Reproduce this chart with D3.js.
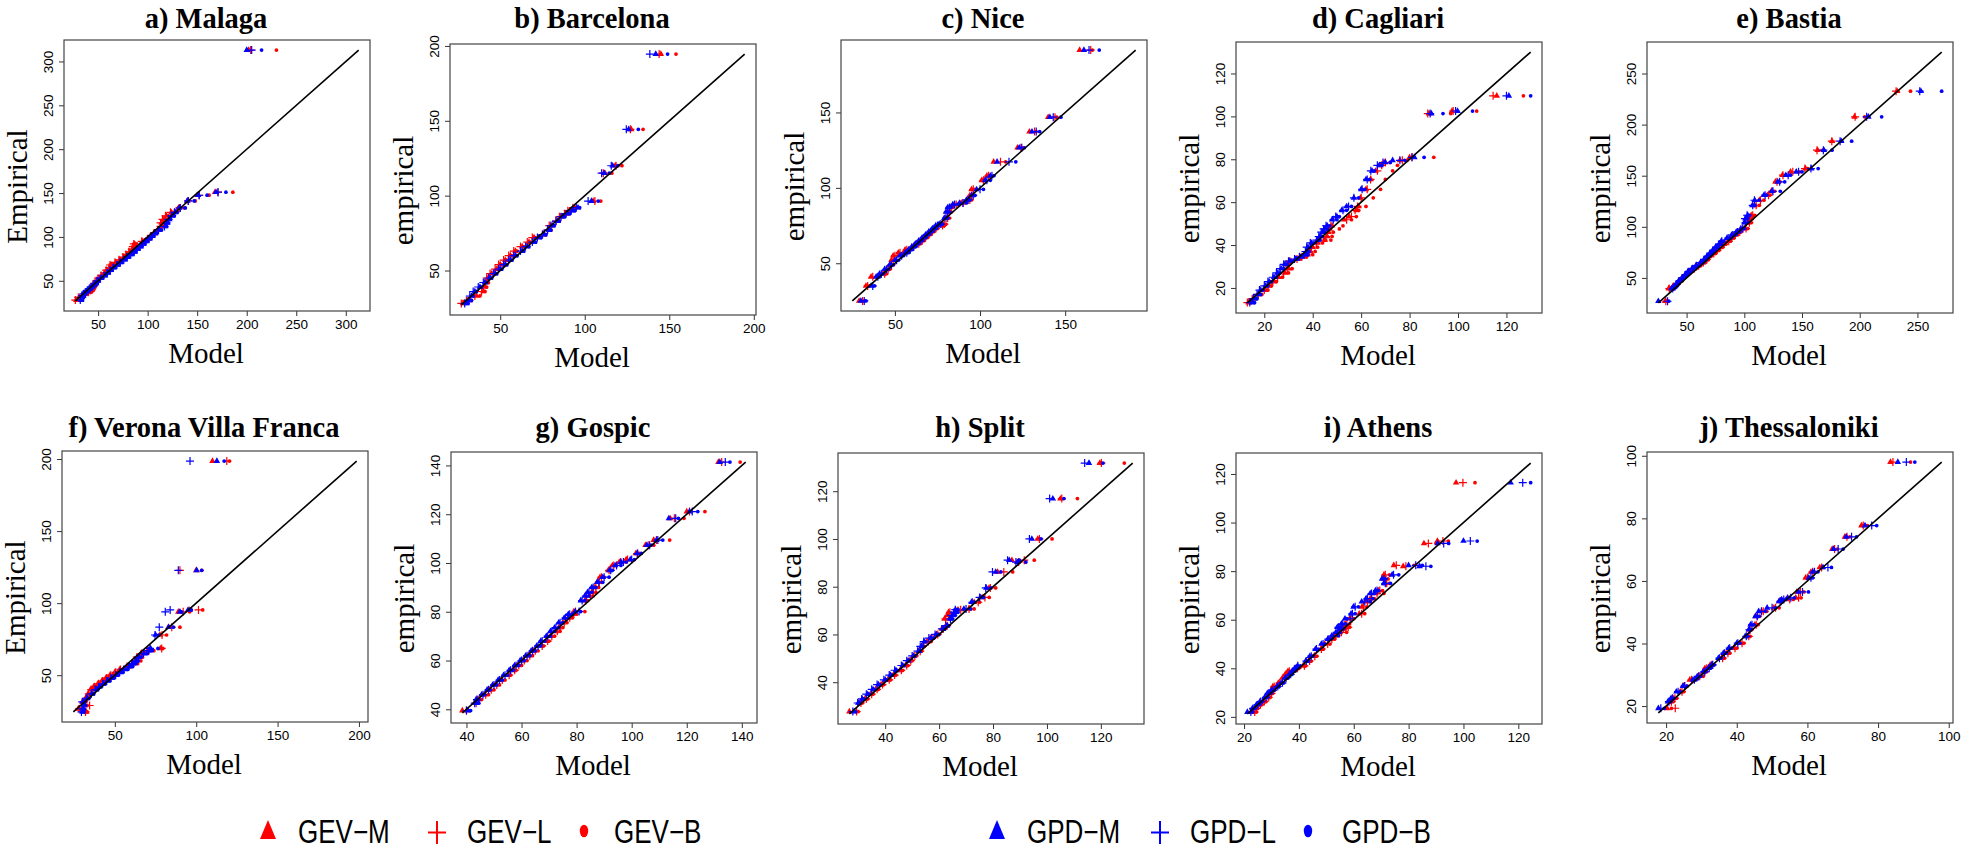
<!DOCTYPE html>
<html>
<head>
<meta charset="utf-8">
<script src="https://cdn.jsdelivr.net/npm/d3@7"></script>
<style>
  body { margin: 0; background: #fff; }
</style>
</head>
<body>
<svg id="fig" width="1972" height="851"></svg>
<script>
// every row: [empirical, GEV-M, GEV-L, GEV-B, GPD-M, GPD-L, GPD-B]
const seriesNames = ["GEV\u2212M", "GEV\u2212L", "GEV\u2212B", "GPD\u2212M", "GPD\u2212L", "GPD\u2212B"]
const titles = ["a) Malaga", "b) Barcelona", "c) Nice", "d) Cagliari", "e) Bastia",
  "f) Verona Villa Franca", "g) Gospic", "h) Split", "i) Athens", "j) Thessaloniki"]
const yTitles = ["Empirical", "empirical", "empirical", "empirical", "empirical",
  "Empirical", "empirical", "empirical", "empirical", "empirical"]
const tickSets = [
  [50, 100, 150, 200, 250, 300],
  [50, 100, 150, 200],
  [50, 100, 150],
  [20, 40, 60, 80, 100, 120],
  [50, 100, 150, 200, 250],
  [50, 100, 150, 200],
  [40, 60, 80, 100, 120, 140],
  [40, 60, 80, 100, 120],
  [20, 40, 60, 80, 100, 120],
  [20, 40, 60, 80, 100]
]

const malaga = [
  [28, 28, 27, 30, 33, 32, 34], [31, 31, 30, 33, 34, 33, 35], [33, 35, 34, 36, 35, 34, 36],
  [35, 38, 37, 39, 36, 35, 37], [37, 41, 40, 43, 38, 37, 39], [39, 43, 42, 45, 40, 39, 41],
  [41, 44, 43, 46, 42, 41, 43], [43, 45, 44, 47, 44, 43, 45], [45, 46, 45, 48, 46, 45, 47],
  [47, 47, 46, 49, 48, 47, 49], [50, 49, 48, 51, 50, 49, 51], [53, 51, 50, 53, 53, 52, 54],
  [56, 54, 53, 56, 57, 56, 58], [59, 57, 56, 59, 60, 59, 61], [62, 59, 58, 61, 63, 62, 64],
  [65, 62, 61, 64, 66, 65, 67], [68, 63, 62, 65, 70, 69, 71], [71, 68, 67, 70, 73, 72, 74],
  [74, 72, 71, 74, 77, 76, 78], [77, 76, 75, 78, 80, 79, 81], [80, 79, 78, 81, 84, 83, 85],
  [83, 82, 81, 84, 87, 86, 88], [86, 85, 84, 87, 90, 89, 91], [89, 86, 85, 88, 93, 92, 94],
  [92, 87, 86, 89, 96, 95, 97], [95, 95, 94, 97, 99, 98, 100], [98, 101, 100, 103, 102, 101, 103],
  [101, 104, 103, 106, 105, 104, 106], [104, 107, 106, 109, 108, 107, 109],
  [108, 111, 110, 113, 112, 111, 114], [112, 114, 113, 116, 118, 117, 119],
  [116, 114, 113, 116, 120, 119, 121], [120, 116, 115, 118, 122, 121, 123],
  [124, 119, 118, 121, 125, 124, 127], [128, 124, 123, 126, 128, 127, 130],
  [133, 131, 132, 137, 132, 133, 138], [141, 140, 141, 148, 140, 141, 147],
  [147.5, 150, 152, 162, 151, 152, 160], [151, 168, 171, 186, 169, 171, 179],
  [313, 202, 204, 230, 200, 205, 215]
]
const barcelona = [
  [28, 28, 27, 30, 30, 29, 31], [30, 31, 30, 33, 32, 31, 33], [33, 36, 35, 38, 33, 32, 34],
  [36, 40, 39, 41, 35, 34, 36], [39, 41, 40, 42, 38, 37, 39], [42, 42, 41, 43, 41, 40, 42],
  [45, 43, 42, 44, 44, 43, 45], [48, 45, 44, 46, 47, 46, 48], [51, 48, 47, 49, 50, 49, 51],
  [54, 50, 49, 51, 53, 52, 54], [57, 53, 52, 54, 56, 55, 57], [60, 56, 55, 57, 59, 58, 60],
  [63, 59, 58, 60, 63, 62, 64], [66, 63, 62, 64, 66, 65, 67], [69, 67, 66, 68, 70, 69, 71],
  [72, 70, 69, 71, 73, 72, 74], [74, 76, 75, 77, 76, 75, 77], [77, 79, 78, 80, 79, 78, 80],
  [80, 80, 79, 81, 81, 80, 82], [83, 84, 83, 85, 84, 83, 85], [86, 86, 85, 87, 87, 86, 88],
  [88, 89, 88, 90, 90, 89, 91], [90, 91, 90, 92, 93, 92, 94], [92, 94, 93, 95, 96, 95, 97],
  [96.4, 105, 106, 109.5, 104, 102, 108], [115, 112, 111, 116, 111.5, 110, 114.5],
  [120, 118, 118.5, 122, 116.5, 115.7, 119.6], [144.3, 127.5, 127, 134.5, 126, 124.6, 131.7],
  [194.6, 145, 144, 154, 142, 138.5, 149]
]
const nice = [
  [25, 29, 31, 32, 30, 32, 33], [35, 33, 34, 35, 36, 37, 38], [41, 36, 37, 39, 39, 40, 41],
  [43, 43, 44, 45, 41, 42, 43], [46, 45, 46, 47, 44, 45, 46], [49, 47, 48, 49, 47, 48, 49],
  [52, 48, 49, 50, 50, 51, 52], [55, 49, 50, 52, 53, 54, 55], [57, 52, 53, 55, 56, 57, 58],
  [59, 56, 57, 58, 58, 59, 60], [61, 60, 61, 62, 60, 61, 62], [63, 63, 64, 65, 62, 63, 64],
  [65, 65, 66, 67, 64, 65, 66], [67, 67, 68, 69, 66, 67, 68], [69, 69, 70, 71, 68, 69, 70],
  [71, 71, 72, 73, 70, 71, 72], [73, 73, 74, 75, 72, 73, 74], [75, 77, 78, 79, 74, 75, 76],
  [76, 78, 79, 80, 76, 77, 78], [80, 80, 81, 82, 79, 80, 81], [84, 81, 82, 83, 80, 81, 82],
  [87, 82, 83, 84, 81, 82, 83], [89, 85, 86, 87, 84, 85, 87], [90, 89, 90, 91, 88, 90, 92],
  [92, 93, 94, 95, 92, 93, 94], [95, 94, 95, 96, 95, 96, 97], [99, 95, 96, 97, 98, 100, 102],
  [105, 101, 102, 103, 103, 104, 106], [108, 104, 105, 106, 106, 107, 108],
  [117.3, 108, 112, 115, 110, 117, 121], [126.6, 122, 124, 125, 123, 124.5, 126],
  [137.3, 129, 132, 133, 130.5, 133, 135], [146.9, 140, 144, 145, 141, 143, 147.5],
  [191.4, 158.5, 165, 166, 161, 164, 170]
]
const cagliari = [
  [13.2, 13.5, 13, 14.5, 15, 14, 16], [15, 15.5, 15, 16.5, 16, 15.5, 17],
  [17, 18, 17.5, 19, 17.5, 17, 18.5], [19, 20.5, 20, 21.5, 18.5, 18, 19.5],
  [21, 22, 21.5, 23, 20.5, 20, 21.5], [23, 24, 23.5, 25, 22, 21.5, 23],
  [25, 26, 25.5, 27.5, 24, 23.5, 25], [27, 28.5, 28, 30, 25.5, 25, 26.5],
  [29, 30, 29.5, 31.5, 27, 26.5, 28], [31, 29.5, 29, 30.5, 28.5, 28, 29.5],
  [32.5, 31, 30.5, 32, 30.5, 30, 31.5], [33.5, 34, 33.5, 35, 33, 32.5, 34],
  [34.5, 36, 35.5, 37.5, 35, 34.5, 36], [35.5, 38, 37.5, 40, 37, 36.5, 38],
  [37, 39, 38.5, 41, 37.5, 37, 38.5], [39, 40, 39.5, 42, 38, 37.5, 39],
  [41, 42, 41.5, 44, 39.5, 39, 40.5], [42.3, 45, 44.5, 47.5, 42, 41.5, 43],
  [44, 46, 45.5, 48, 43, 42.5, 44], [46, 46.5, 46, 48.5, 44, 43.5, 45],
  [47.5, 47, 46.5, 51, 45, 44.5, 46], [49, 48, 47.5, 52.5, 46, 45.5, 47],
  [51.8, 53, 54, 56, 48, 48.5, 50], [53.3, 55, 56, 58, 50, 49.5, 51],
  [56.2, 58, 57.5, 59, 52, 52.5, 54], [58, 59, 58.5, 62, 54, 54.8, 56],
  [62, 59.7, 60, 65, 57, 57, 59], [66, 62, 62.5, 68, 60, 60.4, 61.5],
  [70.6, 64, 63.9, 70, 62, 62.5, 63.5], [74.6, 66, 66.7, 73, 64.5, 64, 65.5],
  [77.2, 68, 68.5, 75, 67.5, 66.7, 68.5], [78.5, 69.5, 70, 72, 70, 69, 72],
  [79.5, 76, 77, 79, 73, 76, 78], [80.9, 80, 81, 90, 82, 81, 86],
  [101.3, 88, 87.5, 97, 89, 88.5, 93.8], [102.5, 97.5, 98, 107.7, 99.8, 99, 106],
  [109.6, 116, 114.5, 127, 121, 120, 130]
]
const bastia = [
  [27.2, 31.5, 32, 33, 25.5, 33.5, 34.5], [39.6, 34.5, 35, 36, 37, 38, 39],
  [41.5, 38, 38.5, 40, 39.5, 40, 41], [44, 41, 41.5, 43, 41, 41.5, 42.5],
  [47, 44, 44.5, 46, 43, 43.5, 45], [50, 46, 46.5, 48, 46, 46.5, 47.5],
  [53, 49, 49.5, 51, 48.5, 49, 50], [56, 52, 52.5, 54, 51, 51.5, 53],
  [59, 56, 56.5, 58, 54.5, 55, 56.5], [62, 60, 60.5, 62, 58, 58.5, 60],
  [65, 64, 64.5, 66, 62, 62.5, 64], [68, 67, 67.5, 69, 65, 65.5, 67],
  [71, 69, 69.5, 71, 67.5, 68, 69.5], [74, 73, 73.5, 75, 70, 70.5, 72],
  [77, 76, 76.5, 78, 72.5, 73, 74.5], [80, 79, 79.5, 81, 75, 75.5, 77],
  [83, 82, 82.5, 84, 78, 78.5, 80], [86, 86, 86.5, 88, 80, 80.5, 82],
  [89, 88, 89, 91, 85, 86, 88], [92, 91, 92, 94, 89, 90, 92],
  [95, 95, 96, 97, 93, 94, 96], [98.3, 100, 101.5, 103, 97, 98.6, 100],
  [104, 103, 104.4, 106, 100, 101, 103], [108, 104, 105, 107, 101, 100.6, 103],
  [111.3, 106, 107.3, 109, 103, 102.4, 104.4], [121, 109, 110.3, 113, 107, 107.3, 109],
  [126, 113, 114, 117, 109, 108.8, 113], [131, 120, 121, 122, 117, 118, 119],
  [134.8, 123.4, 124, 126.3, 124, 124.8, 131.2], [144, 127, 128.3, 131, 129, 130.6, 135],
  [150.5, 133, 133.5, 135.6, 136, 138, 140], [153.8, 140, 142, 148, 145, 147, 150],
  [157, 153, 152.5, 155, 158, 157.7, 164], [175, 163.5, 163, 168, 169, 168.5, 176],
  [183.8, 176, 175.8, 183.5, 184, 183, 193], [207.6, 195.5, 196, 204.3, 207.5, 206, 219],
  [232.7, 232.5, 231.5, 244, 253, 252, 271]
]
const verona = [
  [24.5, 32.5, 32, 33, 30, 29.5, 31], [26.7, 27.5, 28, 29, 30.5, 30, 31],
  [29, 31.5, 34.5, 33, 31, 30.5, 32], [31.5, 30, 31, 32, 30.5, 30, 31.5],
  [34, 32, 33, 34, 33, 32.5, 34], [37, 33.5, 34, 35, 36, 35.5, 37],
  [40, 35, 35.5, 36.5, 38.5, 38, 39.5], [42, 37, 37.5, 38.5, 40.5, 40, 41.5],
  [44, 39.5, 40, 41, 43, 42.5, 44], [46, 42, 42.5, 43.5, 45.5, 45, 47],
  [48, 44.5, 45, 46, 48, 47.5, 49.5], [50, 47, 47.5, 48.5, 51, 50.5, 52],
  [52, 50, 50.5, 51.5, 53.5, 53, 55], [54, 53, 53.5, 55, 56, 55.5, 58],
  [56, 58, 57.5, 60, 59, 58.5, 61], [58, 61, 60.5, 64, 61, 60.5, 63],
  [60, 63, 62.5, 66, 63, 62.5, 64.5], [62.5, 64, 63.5, 67, 65, 64.5, 66],
  [65, 66, 66.5, 68, 68, 67.5, 70], [67, 70, 71, 74, 71, 70.5, 73],
  [68.6, 78, 78.8, 79.5, 72, 71.6, 76.5], [77.9, 77.7, 79, 81.8, 75, 74.7, 77],
  [83.3, 83, 85, 90, 83, 77.3, 86], [94, 89, 92, 96, 90, 81, 91],
  [95.3, 96, 101.4, 104, 95, 84, 97], [122.8, 100, 90, 103.4, 100.3, 89, 103.4],
  [198.6, 110, 118.8, 120.5, 112.7, 96.2, 117.2]
]
const gospic = [
  [39.5, 38.5, 40, 41, 40.5, 40, 41.5], [42.5, 43, 43.5, 44, 43.5, 43, 44.5],
  [44, 44, 44.5, 45.5, 43.5, 43.8, 44.5], [46, 46.5, 47, 48, 45.5, 46, 46.5],
  [48, 48.5, 49, 50, 47.5, 48, 48.5], [50, 50.5, 51, 52, 49.5, 50, 51],
  [52, 52.5, 53, 54, 51.5, 52, 53], [54, 55, 55.5, 56, 53.5, 54, 55],
  [56, 57, 57.5, 58, 55.5, 56, 57], [58, 58.5, 59, 60, 57.5, 58, 59],
  [60, 60.5, 61, 62, 59.5, 60, 61], [62, 62.5, 63, 64, 61.5, 62, 63],
  [64, 64.5, 65, 66, 63.5, 64, 65], [66, 67, 67.5, 68, 65.5, 66, 67],
  [68, 69, 69.5, 70, 67, 67.5, 68.5], [70, 70.5, 71, 72, 69, 69.5, 70.5],
  [72, 72.5, 73, 74, 70.5, 71, 72], [73.5, 73.5, 74, 75, 72, 72.5, 73.5],
  [75.5, 75, 75.5, 76.5, 73.5, 74, 75], [77.5, 77, 77.5, 78.5, 75.5, 76, 77],
  [79, 78.5, 79, 80, 77, 77.5, 78.5], [80.1, 79, 79.6, 83, 79.5, 80.9, 81.5],
  [84.6, 83, 83.3, 84, 81.5, 82, 83], [86.5, 84.5, 85, 86, 83, 83.5, 84.5],
  [88, 85.5, 86, 87, 84, 84.5, 85.5], [90, 86.5, 87, 88, 85.5, 86, 87],
  [92.1, 87.5, 88, 89, 87.5, 88.2, 89.5], [94.2, 88.5, 89, 90, 89.5, 90, 91.8],
  [97, 91.5, 91.8, 92.5, 92, 92.4, 93], [99, 93, 93.5, 94.5, 94, 94.5, 96.1],
  [100.4, 95.5, 96, 97, 96.1, 97, 98], [101.4, 98, 98.5, 99.5, 99.5, 100, 101],
  [103.9, 101.5, 102, 102.8, 102, 102.2, 103.5], [107.3, 105, 106, 108, 105.5, 106.5, 107],
  [109.4, 108, 109, 113.8, 109, 109.5, 111.3], [118.3, 114, 115.5, 119, 113.5, 116, 117],
  [121.1, 120, 121, 126.6, 121, 122, 124], [141.4, 131.5, 132.7, 139.4, 132, 134, 135.7]
]
const split = [
  [27.7, 26.7, 29.4, 30, 28.5, 28, 29], [31.3, 30.5, 31, 31.5, 30, 29.8, 30.5],
  [33, 32.5, 33, 33.5, 31.5, 31.3, 32], [35, 34.5, 35, 35.5, 33.5, 33, 34],
  [37, 36.5, 37, 37.5, 35.5, 35, 36], [39, 38.5, 39, 39.5, 37.5, 37, 38],
  [41, 41, 41.5, 42, 40, 39.5, 40.5], [43, 43, 43.5, 44, 42, 41.5, 42.5],
  [45, 45.5, 46, 46.5, 44, 43.5, 44.5], [47, 47.5, 48, 48.5, 46.5, 46, 47],
  [49, 49, 49.5, 50, 48.5, 48, 49], [51, 50.5, 51, 51.5, 50.5, 50, 51],
  [53, 52.5, 53, 53.5, 52.5, 52, 53], [55, 53.5, 54, 54.5, 53.5, 53, 54],
  [57, 55.5, 56, 57, 54.5, 54.3, 55], [58.5, 56.8, 57.4, 58, 57, 56.2, 58],
  [60, 59, 59.5, 60, 59, 58.5, 59.9], [62.3, 61, 61.5, 62, 61.5, 61, 62],
  [63.7, 62.5, 63, 63.5, 63, 62.5, 63.5], [66.5, 62, 62.4, 64, 64, 64.2, 65],
  [68, 63, 63.5, 65, 65, 64.5, 66], [69.3, 63.5, 64, 66, 66, 65.5, 67],
  [70.4, 67, 68, 69, 66.1, 66, 67], [70.7, 71, 71.1, 73, 69.2, 70, 71.7],
  [73.5, 73, 74.5, 75, 72, 72.3, 73], [75.5, 76, 77, 78.6, 75.4, 75, 76.5],
  [79.5, 78.5, 79, 81, 77.5, 77.3, 79.2], [86.2, 81.7, 84, 87.3, 81, 79.8, 82.9],
  [90.3, 89, 89.5, 92, 89.1, 88.5, 92.2], [91.1, 87, 91.6, 95.3, 86, 85.4, 89.8],
  [100, 96.6, 97.2, 101.9, 94.4, 93.5, 97.8], [116.9, 105, 105.5, 111.3, 102.2, 101, 106.3],
  [131.8, 119.6, 120.2, 128.7, 115.6, 114, 120.8]
]
const athens = [
  [22, 23, 23.9, 24.5, 21.2, 22.5, 23], [23.5, 24, 24.5, 25, 23, 23.3, 24],
  [25, 25.5, 26, 26.5, 24.5, 25, 25.5], [26.3, 27, 27.4, 28, 25.8, 26.1, 26.7],
  [28, 28.5, 29, 29.5, 27.5, 28, 28.5], [29.7, 29.5, 30, 30.5, 28.5, 29, 29.5],
  [31, 30, 30.5, 31, 30, 30.5, 31], [32.5, 30.5, 31, 31.5, 32, 32.3, 32.8],
  [34, 32.5, 33, 33.5, 33.5, 34, 34.5], [36, 34, 34.7, 35.3, 35, 35.3, 36],
  [37.5, 35, 35.5, 36, 36.5, 37, 37.5], [38.8, 36, 36.5, 37.2, 37.5, 37.8, 38.5],
  [40, 39, 39.5, 40, 38.5, 39, 39.5], [41, 41.5, 42, 42.5, 39.5, 39.6, 40.5],
  [43, 43.5, 43.9, 44.5, 42.5, 42.7, 43.5], [45, 45.5, 45.8, 46.5, 44, 44.5, 45],
  [47.9, 48, 48.2, 49, 46, 46.4, 47], [50, 49.4, 50.5, 51.3, 48.2, 48.8, 49.4],
  [52, 51.5, 52, 53, 50.5, 50.7, 51.5], [53.4, 53, 53.5, 54.5, 52, 52.5, 54.4],
  [54.8, 55, 55.5, 57.4, 53.5, 54, 55], [56.2, 56, 56.2, 57, 55, 55.6, 56],
  [56.9, 57, 58, 58.5, 54, 54.4, 55], [58.3, 56.8, 57.5, 58.5, 55.5, 56, 57],
  [60.4, 58.5, 59.3, 60, 56.8, 58.7, 57.5], [62.5, 62, 62.9, 64, 59, 59.5, 60.5],
  [65.3, 63, 63.5, 64.8, 59.9, 60.5, 61.7], [67.4, 64.5, 65, 66, 62.9, 64, 66],
  [68.7, 66, 66.5, 67.5, 64.5, 65, 67], [70.8, 68, 68.5, 71, 66, 66.5, 67.5],
  [72, 69, 69.5, 70.5, 67.9, 68.5, 69], [75, 71.5, 72, 73, 71, 71.5, 73.4],
  [76.8, 71, 71.5, 72.5, 70.3, 71, 71.5], [78.5, 71, 71.5, 73, 74, 74.5, 76.4],
  [82, 78, 79, 83.8, 84, 86.3, 88.1], [82.4, 74.6, 75.5, 82, 80, 82.6, 85],
  [91.4, 85.6, 87.2, 90, 90.6, 92.8, 94.6], [92.4, 90.5, 92.5, 94.5, 100, 102.5, 105],
  [116.4, 97.3, 99.8, 104.2, 117.2, 121.6, 124.5]
]
const thessaloniki = [
  [19.3, 20.3, 22.6, 21.5, 17.8, 18.5, 19.5], [21.4, 21, 21.5, 22, 20.5, 20.8, 21.2],
  [22.5, 22, 22.5, 23, 21.4, 21.8, 22.2], [24.6, 24, 24.5, 25, 22.9, 23.4, 24],
  [26.4, 24.8, 25.3, 26, 24.8, 25.2, 25.8], [28.4, 26.7, 27.2, 28, 27.6, 28, 28.5],
  [29.5, 29, 29.5, 30.5, 28.8, 29.2, 29.8], [31, 30.5, 31, 31.5, 30.5, 30.8, 31.2],
  [32.1, 31, 31.5, 32, 31.9, 32.2, 32.6], [33.2, 32.5, 33, 33.5, 32.9, 33.2, 33.6],
  [35.3, 35.7, 36, 36.5, 34.8, 35.1, 35.5], [36.9, 37, 37.5, 38, 36.2, 36.5, 37],
  [38.5, 39.1, 39.5, 40, 37.7, 38, 38.5], [40.1, 41, 41.5, 42, 40, 40.3, 40.8],
  [42.3, 43, 43.4, 43.8, 42.4, 42.7, 43], [44.4, 43.5, 43.8, 44.2, 43.4, 43.6, 43.9],
  [46, 45.1, 45.5, 46, 43.9, 44.3, 44.8], [48.7, 45.3, 45.8, 46.5, 45.3, 45.8, 46.3],
  [50.3, 47, 47.5, 48.5, 46.2, 47, 48.1], [51.4, 50.5, 51, 52, 48.6, 50, 51],
  [53.5, 52, 52.5, 53, 52, 52.3, 52.7], [54.1, 54, 55, 56, 52.7, 53.3, 53.9],
  [54.6, 56.7, 57.5, 58.2, 54.4, 55.3, 56.3], [56.5, 57, 58, 59, 57.5, 58.6, 60.3],
  [61, 59.5, 60, 60.5, 60.4, 61, 61.5], [62.9, 61, 61.5, 62, 61.5, 62, 63],
  [64.3, 63.5, 64, 64.5, 64.4, 65.8, 66.8], [70.2, 67, 67.7, 68.5, 67.4, 68.7, 70.1],
  [74.1, 70.6, 71.2, 72, 71, 72.5, 73.9], [77.7, 75.3, 75.8, 77, 76.3, 78.2, 79.6],
  [98, 83.5, 84.2, 89.2, 85.6, 88, 90.4]
]

const stations = [malaga, barcelona, nice, cagliari, bastia, verona, gospic, split, athens, thessaloniki]

// layout
let svg = d3.select("#fig")
let W = 306, H = 271
let boxes = [[64, 40], [450, 44], [841, 40], [1236, 42], [1647, 42],
  [62, 451], [451, 452], [838, 453], [1236, 453], [1647, 452]]
let colors = ["#ff0000", "#ff0000", "#ff0000", "#0000ff", "#0000ff", "#0000ff"]
let shapes = ["tri", "plus", "dot", "tri", "plus", "dot"]
let serif = "'Liberation Serif', 'Times New Roman', serif"
let sans = "'Liberation Sans', Arial, Helvetica, sans-serif"

stations.forEach(function (rows, i) {
  let left = boxes[i][0], top = boxes[i][1]
  let g = svg.append("g").attr("transform", "translate(" + left + "," + top + ")")

  let ext = d3.extent(rows.flat())
  let pad = (ext[1] - ext[0]) * 0.04
  let x = d3.scaleLinear().domain([ext[0] - pad, ext[1] + pad]).range([0, W])
  let y = d3.scaleLinear().domain([ext[0] - pad, ext[1] + pad]).range([H, 0])

  // axes
  let xa = g.append("g").attr("transform", "translate(0," + H + ")")
    .call(d3.axisBottom(x).tickValues(tickSets[i]).tickSize(5).tickPadding(3).tickSizeOuter(0))
  let ya = g.append("g")
    .call(d3.axisLeft(y).tickValues(tickSets[i]).tickSize(5).tickSizeOuter(0))
  ;[xa, ya].forEach(function (a) {
    a.select(".domain").remove()
    a.selectAll("line").attr("stroke", "#333")
    a.selectAll("text").attr("fill", "#000")
      .style("font-family", sans).style("font-size", "13.5px")
  })
  ya.selectAll("text")
    .attr("transform", "rotate(-90)")
    .attr("x", 0).attr("y", -11).attr("dy", 0)
    .style("text-anchor", "middle")

  // points: GEV first, GPD on top
  for (let k = 0; k < 6; k++) {
    let pts = rows.map(function (r) { return [r[k + 1], r[0]] })
    let sel = g.append("g").selectAll("path").data(pts).enter().append("path")
      .attr("transform", function (d) { return "translate(" + x(d[0]) + "," + y(d[1]) + ")" })
    if (shapes[k] === "tri") {
      sel.attr("d", d3.symbol(d3.symbolTriangle, 18)).attr("fill", colors[k])
    } else if (shapes[k] === "plus") {
      sel.attr("d", "M-4,0H4M0,-4V4").attr("stroke", colors[k]).attr("stroke-width", 1.2).attr("fill", "none")
    } else {
      sel.attr("d", d3.symbol(d3.symbolCircle, 11)).attr("fill", colors[k])
    }
  }

  // 1:1 reference line
  g.append("line")
    .attr("x1", x(ext[0])).attr("y1", y(ext[0]))
    .attr("x2", x(ext[1])).attr("y2", y(ext[1]))
    .attr("stroke", "#000").attr("stroke-width", 1.6)

  // frame
  g.append("rect").attr("width", W).attr("height", H)
    .attr("fill", "none").attr("stroke", "#444").attr("stroke-width", 1.2)

  // labels
  svg.append("text")
    .attr("x", left + W / 2 - 11).attr("y", i < 5 ? 28 : 437)
    .attr("text-anchor", "middle")
    .style("font-family", serif).style("font-weight", "bold").style("font-size", "28.5px")
    .text(titles[i])
  svg.append("text")
    .attr("x", left + W / 2 - 11).attr("y", top + H + 52)
    .attr("text-anchor", "middle")
    .style("font-family", serif).style("font-size", "29px")
    .text("Model")
  svg.append("text")
    .attr("transform", "translate(" + (left - 37) + "," + (top + H / 2 + 11) + ") rotate(-90)")
    .attr("text-anchor", "middle")
    .style("font-family", serif).style("font-size", "29px")
    .text(yTitles[i])
})

// legend
let legendX = [268, 437, 584, 997, 1160, 1308]
let legend = svg.append("g")
seriesNames.forEach(function (name, k) {
  let cx = legendX[k]
  if (shapes[k] === "tri") {
    legend.append("path").attr("d", "M" + (cx - 8) + ",839L" + (cx + 8) + ",839L" + cx + ",820Z")
      .attr("fill", colors[k])
  } else if (shapes[k] === "plus") {
    legend.append("path").attr("d", "M" + (cx - 9) + ",832.5H" + (cx + 9) + "M" + cx + ",821V844")
      .attr("stroke", colors[k]).attr("stroke-width", 2).attr("fill", "none")
  } else {
    legend.append("ellipse").attr("cx", cx).attr("cy", 831).attr("rx", 4.2).attr("ry", 6.3)
      .attr("fill", colors[k])
  }
  legend.append("text")
    .attr("transform", "translate(" + (cx + (k === 5 ? 34 : 30)) + ",843) scale(1,1.25)")
    .style("font-family", sans).style("font-size", "26px")
    .text(name)
})
</script>
</body>
</html>
